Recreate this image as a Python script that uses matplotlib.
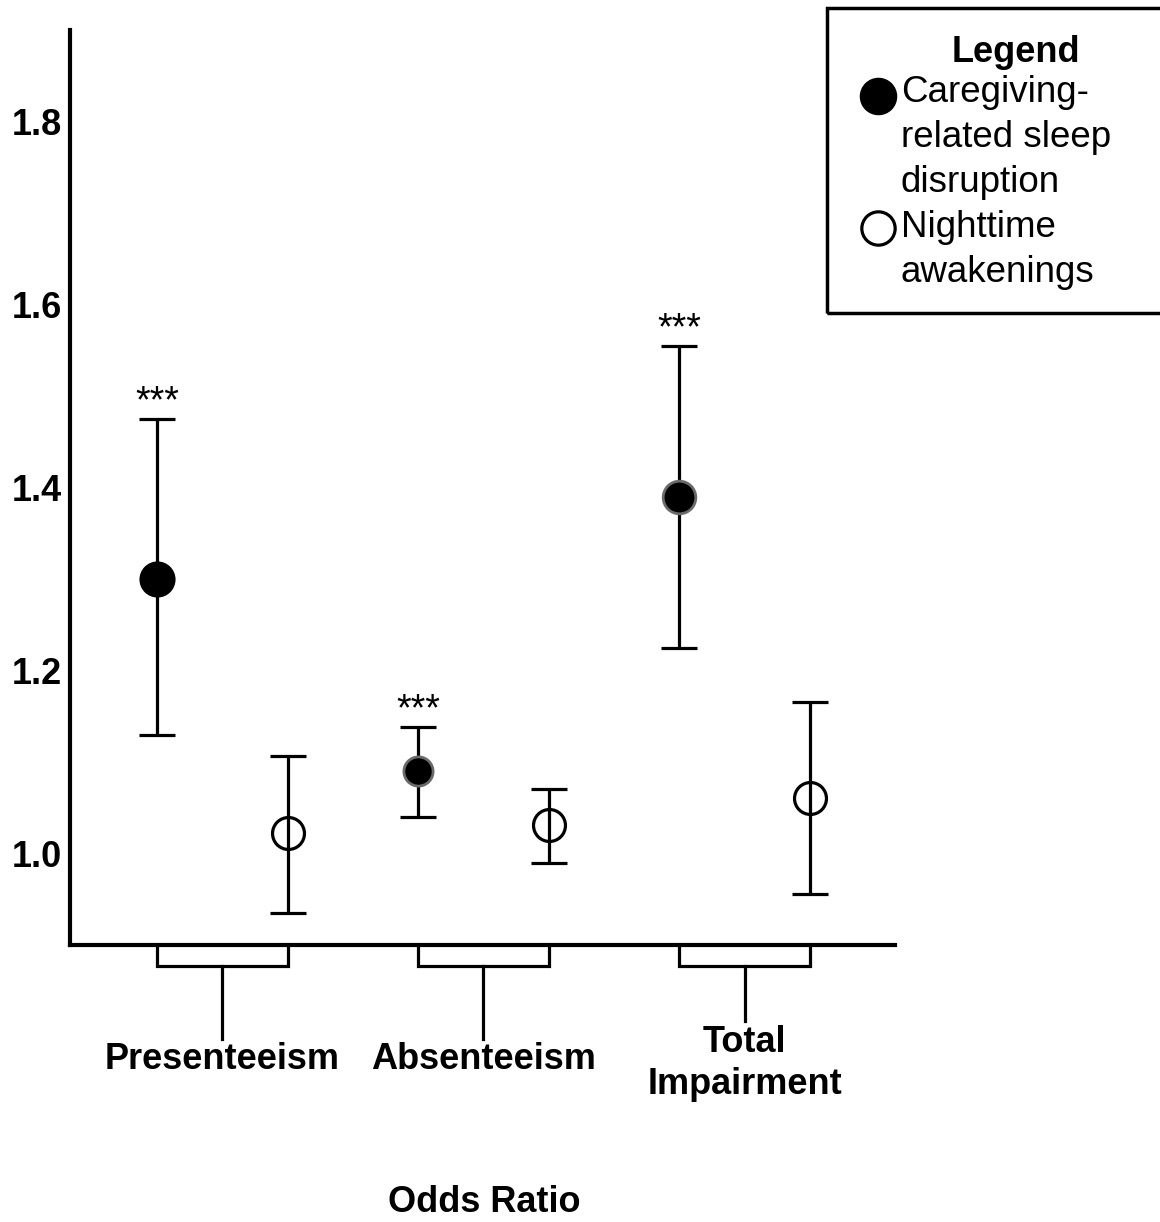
import matplotlib.pyplot as plt
from matplotlib.lines import Line2D
from matplotlib.patches import Rectangle

# -----------------------------
# Data (odds ratios with 95% CI)
# -----------------------------
outcomes = ["Presenteeism", "Absenteeism", "Total\nImpairment"]

sleep_or = [1.30, 1.09, 1.39]
sleep_lo = [1.13, 1.04, 1.225]
sleep_hi = [1.475, 1.138, 1.555]

wake_or = [1.022, 1.031, 1.061]
wake_lo = [0.935, 0.990, 0.956]
wake_hi = [1.106, 1.071, 1.166]

stars = ["***", "***", "***"]
yticks = [1.0, 1.2, 1.4, 1.6, 1.8]

FONT = "Liberation Sans"
plt.rcParams["font.family"] = FONT

fig = plt.figure(figsize=(11.6, 12.22), dpi=100)
ax = fig.add_axes([0.0603, 0.2267, 0.7112, 0.7488])

sleep_x = [2 * i for i in range(len(outcomes))]
wake_x = [2 * i + 1 for i in range(len(outcomes))]

# error bars
for xs, m, lo, hi in [(sleep_x, sleep_or, sleep_lo, sleep_hi),
                      (wake_x, wake_or, wake_lo, wake_hi)]:
    ax.errorbar(xs, m, yerr=[[a - b for a, b in zip(m, lo)], [b - a for a, b in zip(m, hi)]],
                fmt="none", ecolor="black", elinewidth=2.3, capsize=13, capthick=2.3, zorder=2)

# markers
edge = ["black", "#6a6a6a", "#6a6a6a"]
sizes = [24, 21, 23.5]
for x, y, ec, ms in zip(sleep_x, sleep_or, edge, sizes):
    ax.plot(x, y, "o", ms=ms, mfc="black", mec=ec, mew=2, zorder=3)
ax.plot(wake_x, wake_or, "o", ms=23, mfc="none", mec="black", mew=2.3, zorder=3)

# significance stars
for x, hi, s in zip(sleep_x, sleep_hi, stars):
    ax.annotate(s, (x, hi), xytext=(0, -1), textcoords="offset points",
                ha="center", va="bottom", fontsize=27)

ax.set_xlim(-0.666, 5.65)
ax.set_ylim(0.90, 1.90)
ax.set_yticks(yticks)
ax.set_yticklabels([f"{t:.1f}" for t in yticks], fontsize=26, fontweight="bold")
ax.tick_params(axis="y", length=0, pad=6)
ax.set_xticks([])
for s in ["top", "right"]:
    ax.spines[s].set_visible(False)
ax.spines["left"].set_linewidth(3)
ax.spines["bottom"].set_linewidth(3)

# group brackets below the axis
stem_end = [0.7975, 0.7975, 0.8165]
label_y = [0.775, 0.775, 0.7705]
for i, lab in enumerate(outcomes):
    a, b = sleep_x[i], wake_x[i]
    c = (a + b) / 2
    ax.plot([a, a, b, b], [0.90, 0.877, 0.877, 0.90], color="black", lw=2.3,
            clip_on=False, solid_joinstyle="miter")
    ax.plot([c, c], [0.877, stem_end[i]], color="black", lw=2.3, clip_on=False)
    ax.text(c, label_y[i], lab, ha="center", va="center", fontsize=26,
            fontweight="bold", linespacing=1.25, clip_on=False)

fig.text(484 / 1160, 1 - 1203 / 1222, "Odds Ratio", ha="center", va="center",
         fontsize=26, fontweight="bold")

# legend box
box = Rectangle((827 / 1160, 1 - 313 / 1222), 0.35, 305 / 1222,
                transform=fig.transFigure, fill=False, ec="black", lw=2.5)
fig.add_artist(box)
fig.text(1016 / 1160, 1 - 52 / 1222, "Legend", ha="center", va="center",
         fontsize=26, fontweight="bold")
fig.add_artist(Line2D([878 / 1160], [1 - 96 / 1222], transform=fig.transFigure,
                      marker="o", ms=26, mfc="black", mec="black", ls="none"))
fig.add_artist(Line2D([878 / 1160], [1 - 228 / 1222], transform=fig.transFigure,
                      marker="o", ms=24, mfc="white", mec="black", mew=2.3, ls="none"))
fig.text(901 / 1160, 1 - 75 / 1222,
         "Caregiving-\nrelated sleep\ndisruption\nNighttime\nawakenings",
         ha="left", va="top", fontsize=26.5, linespacing=1.37)

fig.savefig("out.png", dpi=100)
